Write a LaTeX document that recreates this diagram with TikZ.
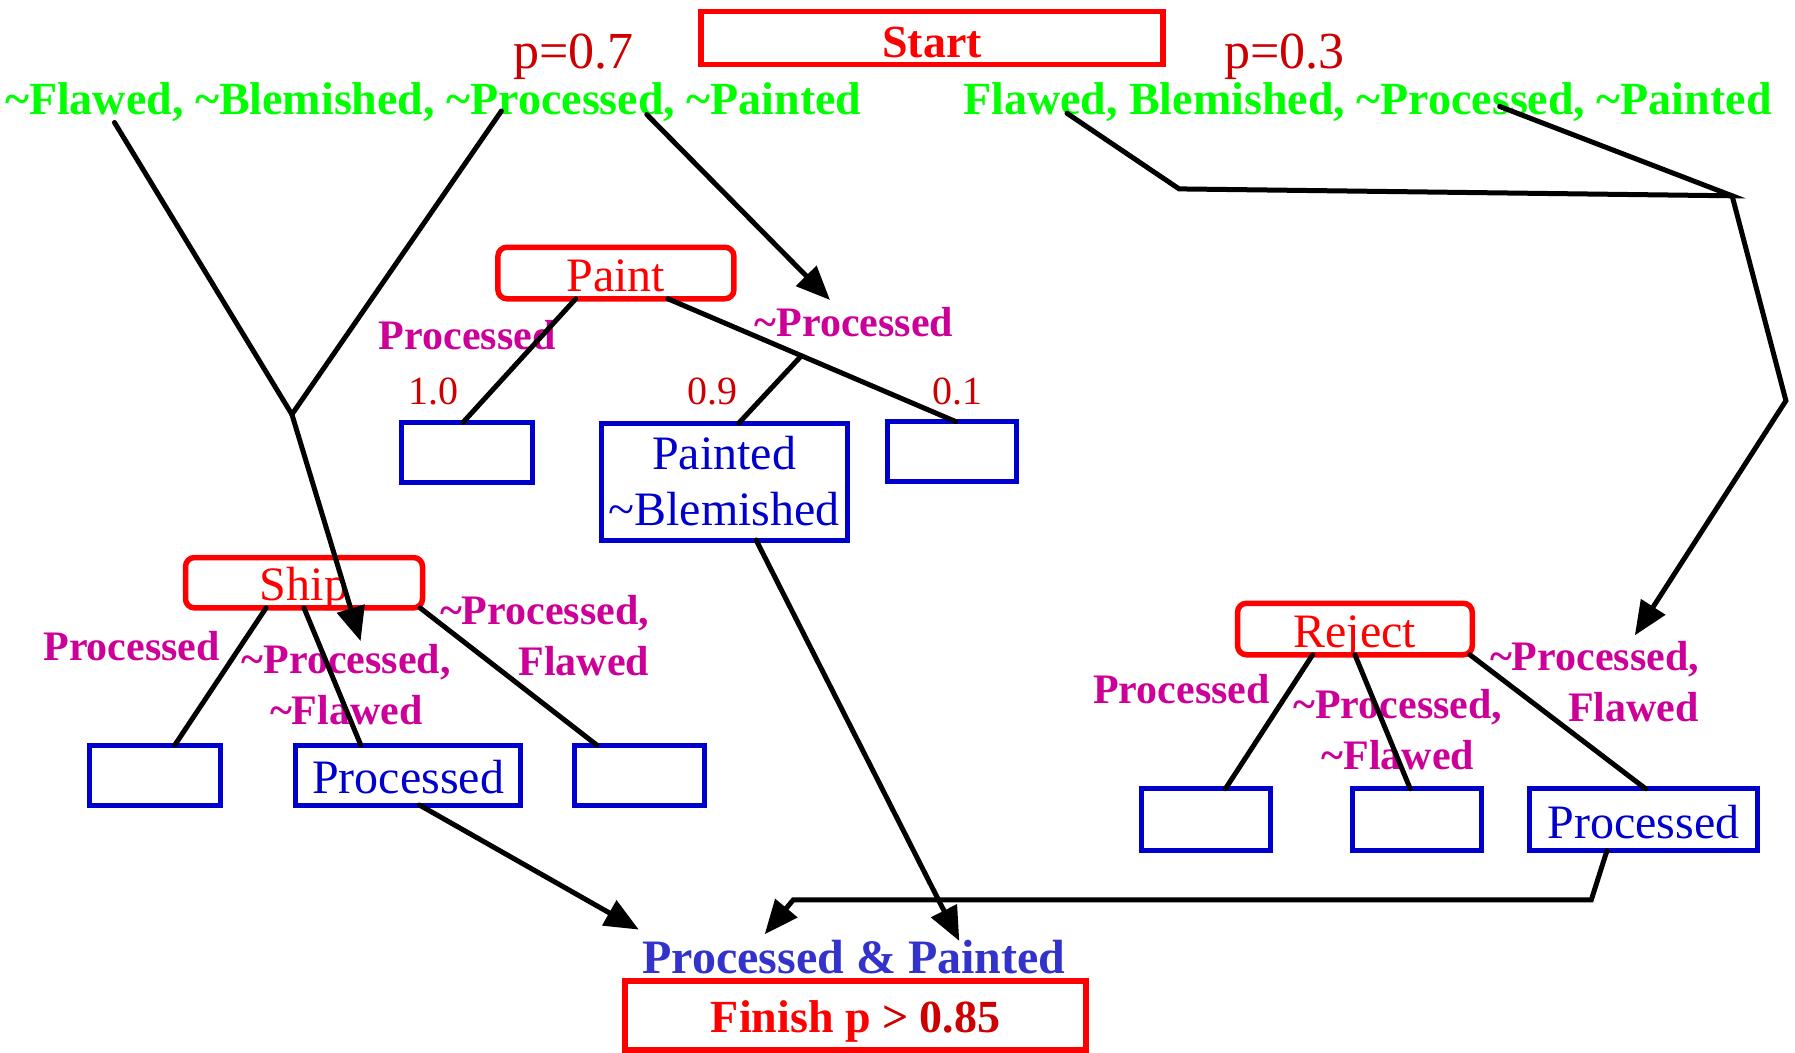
\documentclass[tikz,border=0pt]{standalone}
\usepackage{fontspec}
\setmainfont{Liberation Serif}
\usetikzlibrary{arrows.meta,calc}
\definecolor{boxred}{HTML}{FF0000}
\definecolor{numred}{HTML}{CC0000}
\definecolor{leafblue}{HTML}{0000CC}
\definecolor{goalblue}{HTML}{3333CC}
\definecolor{statgreen}{HTML}{00FF00}
\definecolor{condmag}{HTML}{CC0099}
\newcommand\fsz[2]{\fontsize{#1}{#2}\selectfont}

\begin{document}
\begin{tikzpicture}[x=1pt,y=-1pt,
  every node/.style={inner sep=0pt,outer sep=0pt},
  endbox/.style={draw=boxred,line width=5.5pt,text=boxred,font=\fsz{46}{50}\bfseries,
                 text depth=0pt},
  actbox/.style={draw=boxred,line width=5.5pt,rounded corners=9pt,text=boxred,
                 minimum height=51.5pt,font=\fsz{48}{52},text height=36pt,text depth=0pt},
  leaf/.style={draw=leafblue,line width=5pt,text=leafblue,minimum height=60pt,
               font=\fsz{48}{56}},
  state/.style={text=statgreen,font=\fsz{46}{50}\bfseries,anchor=base},
  cond/.style={text=condmag,font=\fsz{42}{51}\bfseries},
  prob/.style={text=numred,font=\fsz{40}{44}},
  pmark/.style={text=numred,font=\fsz{52}{56}},
  link/.style={line width=5pt,draw=black,line cap=round},
  flow/.style={link,-{Triangle[length=34pt,width=28pt]}}]

\useasboundingbox (0,0) rectangle (1795,1052);

% start and goal
\node[endbox,minimum width=462pt,minimum height=53pt,text height=40pt] (start) at (932,37.8) {Start};
\node[endbox,minimum width=461pt,minimum height=69pt,text height=35pt] (finish) at (855.7,1015.4)
  {{\color{boxred}Finish p} {\color{numred}> 0.85}};
\node[text=goalblue,font=\fsz{48}{52}\bfseries] (goal) at (854,957) {Processed \& Painted};

% initial states
\node[pmark] (pa) at (573.5,57.2) {p=0.7};
\node[pmark] (pb) at (1284.5,57.2) {p=0.3};
\node[state] (s1) at (433.3,114) {\textasciitilde Flawed, \textasciitilde Blemished, \textasciitilde Processed, \textasciitilde Painted};
\node[state] (s2) at (1367.4,114) {Flawed, Blemished, \textasciitilde Processed, \textasciitilde Painted};

% Paint action
\node[actbox,minimum width=236pt] (pnt) at (615.9,273) {Paint};
\node[cond] (pc1) at (467.1,335.4) {Processed};
\node[cond] (pc2) at (854,321.7) {\textasciitilde Processed};
\node[prob] (q1) at (433.9,391.5) {1.0};
\node[prob] (q2) at (712.1,391.5) {0.9};
\node[prob] (q3) at (957,391.5) {0.1};
\node[leaf,minimum width=130.5pt] (p1) at (467.1,452.2) {};
\node[leaf,minimum width=246pt,minimum height=117pt,align=center] (p2) at (724.1,481.5)
  {Painted\\\textasciitilde Blemished};
\node[leaf,minimum width=129.4pt] (p3) at (951.9,451.6) {};

% Ship action
\node[actbox,minimum width=237pt,minimum height=50.4pt] (ship) at (304,582.7) {Ship};
\node[cond] (sc1) at (131.7,645.7) {Processed};
\node[cond,align=center] (sc2) at (346.3,684.6) {\textasciitilde Processed,\\\textasciitilde Flawed};
\node[cond,align=right,anchor=east] (sc3) at (649,636) {\textasciitilde Processed,\\Flawed};
\node[leaf,minimum width=131.6pt] (b1) at (155.1,775) {};
\node[leaf,minimum width=225.5pt,text height=37pt,text depth=0pt] (b2) at (408.1,775) {Processed};
\node[leaf,minimum width=129.4pt] (b3) at (639.4,775) {};

% Reject action
\node[actbox,minimum width=234.7pt] (rej) at (1354.9,629) {Reject};
\node[cond] (rc1) at (1181.4,689.2) {Processed};
\node[cond,align=center] (rc2) at (1397.8,729.2) {\textasciitilde Processed,\\\textasciitilde Flawed};
\node[cond,align=right,anchor=east] (rc3) at (1698.9,681.7) {\textasciitilde Processed,\\Flawed};
\node[leaf,minimum width=129.3pt,minimum height=61.8pt] (r1) at (1206,819.7) {};
\node[leaf,minimum width=129.4pt,minimum height=61.8pt] (r2) at (1416.7,819.7) {};
\node[leaf,minimum width=227.8pt,minimum height=61.8pt,text height=37pt,text depth=0pt] (r3) at (1643.4,819.7) {Processed};

% routing points
\coordinate (g1a) at (114.5,122.5);
\coordinate (g1b) at (501.4,111);
\coordinate (g1c) at (646.8,114.5);
\coordinate (shipjoin) at (291.9,414.4);
\coordinate (shiptip) at (360.6,641.1);
\coordinate (painttip) at (830,300);
\coordinate (g2a) at (1067,113.3);
\coordinate (g2bend) at (1179.1,188.9);
\coordinate (g2join) at (1732.1,195.8);
\coordinate (g2b) at (1499.7,106.5);
\coordinate (g2elbow) at (1785.9,400.7);
\coordinate (rejtip) at (1634.8,635.4);
\coordinate (tipA) at (638.8,929.6);
\coordinate (tipB) at (959.3,941);
\coordinate (tipC) at (764.7,934.2);
\coordinate (retA) at (1591.3,899.8);
\coordinate (retB) at (793.3,899.8);

% from initial states to actions
\draw[link] (g1a) -- (shipjoin) -- (g1b);
\draw[flow] (shipjoin) -- (shiptip);
\draw[flow] (g1c) -- (painttip);
\draw[link] (g2a) -- (g2bend) -- (g2join) -- (g2b);
\draw[flow] (g2join) -- (g2elbow) -- (rejtip);

% Paint outcomes
\coordinate (pL) at ($(pnt.south west)!0.33!(pnt.south east)$);
\coordinate (pR) at ($(pnt.south west)!0.72!(pnt.south east)$);
\coordinate (p3top) at ($(p3.north west)!0.53!(p3.north east)$);
\draw[link] (pL) -- ($(p1.north west)!0.47!(p1.north east)$);
\draw[link] (pR) -- (p3top);
\draw[link] ($(pR)!0.464!(p3top)$) -- ($(p2.north west)!0.56!(p2.north east)$);

% Ship outcomes
\draw[link] ($(ship.south west)!0.34!(ship.south east)$) -- ($(b1.north west)!0.65!(b1.north east)$);
\draw[link] ($(ship.south west)!0.5!(ship.south east)$) -- ($(b2.north west)!0.29!(b2.north east)$);
\draw[link] ($(ship.south west)!0.99!(ship.south east)$) -- ($(b3.north west)!0.17!(b3.north east)$);

% Reject outcomes
\draw[link] ($(rej.south west)!0.32!(rej.south east)$) -- ($(r1.north west)!0.65!(r1.north east)$);
\draw[link] ($(rej.south west)!0.5!(rej.south east)$) -- ($(r2.north west)!0.45!(r2.north east)$);
\draw[link] ($(rej.south west)!0.99!(rej.south east)$) -- ($(r3.north west)!0.51!(r3.north east)$);

% into the goal
\draw[flow] ($(b2.south west)!0.55!(b2.south east)$) -- (tipA);
\draw[flow] ($(p2.south west)!0.63!(p2.south east)$) -- (tipB);
\draw[flow] ($(r3.south west)!0.34!(r3.south east)$) -- (retA) -- (retB) -- (tipC);
\end{tikzpicture}
\end{document}
